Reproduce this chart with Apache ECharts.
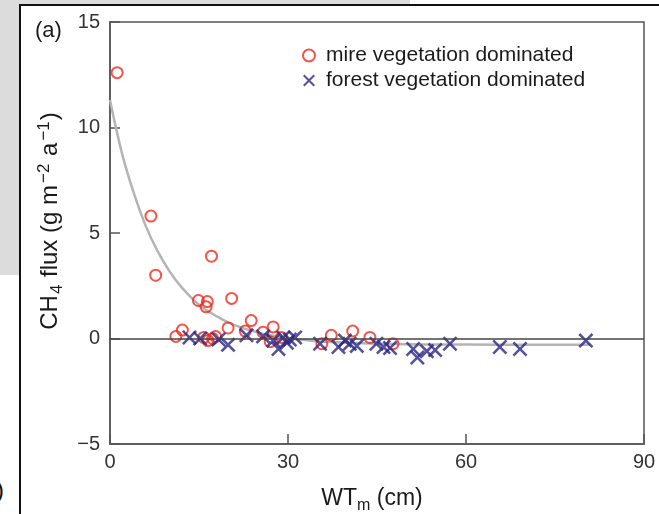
<!DOCTYPE html>
<html>
<head>
<meta charset="utf-8">
<script src="https://cdn.jsdelivr.net/npm/echarts@6/dist/echarts.min.js"></script>
<style>
  html, body { margin: 0; padding: 0; background: #fff; }
  #wrap { position: relative; width: 659px; height: 514px; overflow: hidden; }
  #grey { position: absolute; left: 0; top: 0; width: 410px; height: 275px; background: #dcdcdc; }
  #panel { position: absolute; left: 19px; top: 4px; width: 700px; height: 600px; background: #fff; border: 2px solid #111; }
  #paren { position: absolute; left: -4px; top: 476px; font: 24px 'Liberation Sans', Arial, sans-serif; color: #111; }
  #Flux { position: absolute; left: 0; top: 0; width: 659px; height: 514px; }
</style>
</head>
<body>
<div id="wrap">
  <div id="grey"></div>
  <div id="panel"></div>
  <div id="paren">)</div>
  <div id="Flux"></div>
</div>
<script>
// values (x = WTm in cm, y = CH4 flux)
var mireX = [1.2, 6.9, 7.7, 17.1, 14.9, 16.4, 16.2, 20.5, 23.8, 19.9, 27.5, 12.2, 11.1, 15.8, 16.5, 17.3, 17.8, 22.8, 25.8, 27.0, 28.9, 35.7, 37.3, 40.9, 43.8, 47.7];
var mireY = [12.6, 5.8, 3.0, 3.9, 1.8, 1.75, 1.5, 1.9, 0.85, 0.5, 0.55, 0.4, 0.1, 0.05, -0.1, 0.0, 0.1, 0.35, 0.3, -0.15, 0.05, -0.25, 0.15, 0.35, 0.05, -0.25];

var forestX = [13.4, 15.2, 18.3, 19.9, 23.0, 25.8, 27.5, 28.4, 29.2, 29.8, 30.3, 31.2, 35.4, 38.5, 39.6, 40.4, 41.6, 44.9, 46.1, 47.2, 51.1, 51.8, 53.4, 54.8, 57.3, 65.7, 69.1, 80.2];
var forestY = [0.05, 0.0, -0.05, -0.3, 0.15, 0.1, -0.1, -0.5, 0.05, -0.2, -0.05, 0.05, -0.25, -0.4, -0.1, -0.25, -0.35, -0.25, -0.4, -0.45, -0.5, -0.9, -0.6, -0.55, -0.25, -0.4, -0.5, -0.1];

// grey fitted curve
var fitX = [0, 2, 4, 6, 8, 10, 12, 15, 18, 21, 25, 30, 35, 40, 50, 60, 70, 81];
var fitY = [11.3, 8.8, 6.9, 5.35, 4.15, 3.2, 2.45, 1.6, 1.05, 0.63, 0.28, 0.02, -0.13, -0.2, -0.27, -0.29, -0.3, -0.3];

var xTicks = [0, 90, 30];   // min, max, interval
var yTicks = [-5, 15, 5];

var red = '#f02a1e';
var navy = '#2a2586';
var ink = '#1a1a1a';
var font = "'Liberation Sans', Arial, sans-serif";
var crossPath = 'path://M0,1.2L1.2,0L5,3.8L8.8,0L10,1.2L6.2,5L10,8.8L8.8,10L5,6.2L1.2,10L0,8.8L3.8,5Z';

function pairs(xs, ys) {
  return xs.map(function (x, i) { return [x, ys[i]]; });
}
function minus(v) { return String(v).replace('-', '\u2212'); }

var myChart = echarts.init(document.getElementById('Flux'), null, { renderer: 'canvas' });

var option = {
  backgroundColor: 'transparent',
  animation: false,
  textStyle: { fontFamily: font },
  title: {
    text: '(a)',
    left: 30,
    top: 15,
    textStyle: { fontSize: 22, fontWeight: 'normal', color: ink, fontFamily: font }
  },
  legend: {
    orient: 'vertical',
    left: 297,
    top: 40,
    itemWidth: 12,
    itemHeight: 12,
    itemGap: 4,
    textStyle: { fontSize: 21, lineHeight: 21, color: ink, fontFamily: font, padding: [0, 0, 0, 6] },
    data: [
      { name: 'mire vegetation dominated', icon: 'circle', itemStyle: { color: 'transparent', borderColor: red, borderWidth: 2 } },
      { name: 'forest vegetation dominated', icon: crossPath, itemStyle: { color: navy, borderWidth: 0 } }
    ]
  },
  grid: {
    left: 110, right: 15, top: 22, bottom: 70,
    outerBoundsMode: 'none',
    show: true, borderColor: '#555', borderWidth: 1.5, backgroundColor: 'transparent'
  },
  xAxis: {
    type: 'value',
    min: xTicks[0], max: xTicks[1], interval: xTicks[2],
    name: '{n|WT}{sub|m}{n| (cm)}',
    nameLocation: 'middle',
    nameGap: 41,
    nameTextStyle: {
      padding: [0, 10, 0, 0],
      rich: {
        n: { fontSize: 23, color: ink, fontFamily: font, lineHeight: 28 },
        sub: { fontSize: 16, color: ink, fontFamily: font, lineHeight: 28, padding: [14, 0, 0, 0] }
      }
    },
    axisLine: { show: true, onZero: false, lineStyle: { color: '#555', width: 1.5 } },
    axisTick: { inside: true, length: 10, lineStyle: { color: '#555', width: 1.5 } },
    axisLabel: { fontSize: 20, color: '#333', margin: 8, formatter: minus },
    splitLine: { show: false }
  },
  yAxis: {
    type: 'value',
    min: yTicks[0], max: yTicks[1], interval: yTicks[2],
    name: '{n|CH}{sub|4}{n| flux (g m}{sup|\u22122}{n| a}{sup|\u22121}{n|)}',
    nameLocation: 'middle',
    nameGap: 44,
    nameRotate: 90,
    nameTextStyle: {
      padding: [0, 0, 0, 24],
      rich: {
        n: { fontSize: 24, color: ink, fontFamily: font, lineHeight: 30 },
        sub: { fontSize: 17, color: ink, fontFamily: font, lineHeight: 30, padding: [14, 1, 0, 1] },
        sup: { fontSize: 17, color: ink, fontFamily: font, lineHeight: 30, padding: [0, 1, 12, 2] }
      }
    },
    axisLine: { show: true, lineStyle: { color: '#555', width: 1.5 } },
    axisTick: { inside: true, length: 10, lineStyle: { color: '#555', width: 1.5 } },
    axisLabel: { fontSize: 20, color: '#333', margin: 10, formatter: minus },
    splitLine: { show: false }
  },
  series: [
    {
      name: 'fit',
      type: 'line',
      smooth: 0.4,
      showSymbol: false,
      silent: true,
      z: 1,
      lineStyle: { color: '#b4b4b4', width: 2.5 },
      data: pairs(fitX, fitY)
    },
    {
      name: 'mire vegetation dominated',
      type: 'scatter',
      symbol: 'circle',
      symbolSize: 11,
      z: 3,
      itemStyle: { color: 'transparent', borderColor: red, borderWidth: 2 },
      data: pairs(mireX, mireY)
    },
    {
      name: 'forest vegetation dominated',
      type: 'scatter',
      symbol: crossPath,
      symbolSize: 15,
      z: 4,
      itemStyle: { color: navy },
      data: pairs(forestX, forestY),
      markLine: {
        silent: true,
        symbol: 'none',
        label: { show: false },
        lineStyle: { color: '#444', type: 'solid', width: 1.5 },
        data: [{ yAxis: 0 }]
      }
    }
  ]
};

myChart.setOption(option);
</script>
</body>
</html>
